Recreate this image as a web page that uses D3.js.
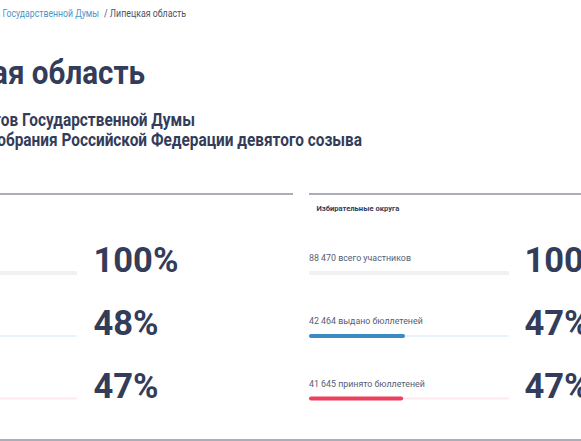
<!DOCTYPE html>
<html><head><meta charset="utf-8">
<script src="https://cdnjs.cloudflare.com/ajax/libs/d3/7.8.5/d3.min.js"></script>
<style>html,body{margin:0;padding:0;background:#fff;overflow:hidden}svg{display:block}text{font-family:Roboto,sans-serif}</style>
</head><body><svg id="c" width="581" height="441"></svg>
<script>
const panelTitles = ["Избирательные округа"];
const rowLabels = ["всего участников","выдано бюллетеней","принято бюллетеней"];
const rightCounts = [88470,42464,41645];
const leftPercents = [100,48,47];
const rightPercents = [100,47,47];
const breadcrumbLink = "Выборы депутатов Государственной Думы";
const breadcrumbCurrent = "/ Липецкая область";
const pageTitle = "Липецкая область";
const subtitleLines = ["Выборы депутатов Государственной Думы","Федерального Собрания Российской Федерации девятого созыва"];
const fillColors = ["#eef0f1","#3a8ac4","#ee3f5c"];
const trackColors = ["#eff1f2","#eaf3fa","#fde8ec"];
const ink = "#333c59";
const svg = d3.select("#c");
const rowY = d3.scaleOrdinal().domain([0,1,2]).range([273,336,398.5]);
const xL = d3.scaleLinear().domain([0,100]).range([-123,77]);
const xR = d3.scaleLinear().domain([0,100]).range([309,509]);
const cond = (sel,x,y,sx)=>sel.attr("transform",`translate(${x},${y}) scale(${sx},1)`);

svg.append("text").call(cond,99,17,0.83).attr("text-anchor","end").attr("font-size",10.5).attr("fill","#4a97c9").text(breadcrumbLink);
svg.append("text").call(cond,104,17,0.84).attr("font-size",10.5).attr("fill","#4b5268").text(breadcrumbCurrent);
svg.append("text").call(cond,145,84,0.87).attr("text-anchor","end").attr("font-size",34).attr("font-weight",700).attr("fill",ink).text(pageTitle);
svg.selectAll("text.sub").data(subtitleLines).join("text").attr("class","sub").attr("text-anchor","end")
  .each(function(d,i){d3.select(this).call(cond,[195,362][i],[126,146][i],0.88)})
  .attr("font-size",17.5).attr("font-weight",700).attr("fill",ink).text(d=>d);

const rules=[[-10,293,194],[309,600,194],[-10,600,440]];
svg.selectAll("line.r").data(rules).join("line").attr("class","r").attr("x1",d=>d[0]).attr("x2",d=>d[1]).attr("y1",d=>d[2]).attr("y2",d=>d[2]).attr("stroke","#8f92a3").attr("stroke-width",1.5);
svg.append("text").attr("x",316.5).attr("y",211).attr("font-size",7.6).attr("font-weight",700).attr("fill",ink).text(panelTitles[0]);

const fmt=n=>String(n).replace(/\B(?=(\d{3})+$)/g," ");
function bars(name,x,pcts,vals,numX){
  const g=svg.append("g").attr("class",name);
  const rows=g.selectAll("g").data(pcts).join("g");
  rows.append("rect").attr("x",x(0)).attr("y",(d,i)=>rowY(i)-(i?1:2)).attr("width",x(100)-x(0)).attr("height",(d,i)=>i?2:4).attr("rx",1).attr("fill",(d,i)=>trackColors[i]);
  rows.filter((d,i)=>i>0).append("rect").attr("x",x(0)).attr("y",(d,i)=>rowY(i+1)-2).attr("width",(d,i)=>x(vals?vals[i+1]/vals[0]*100:d)-x(0)).attr("height",4).attr("rx",2).attr("fill",(d,i)=>fillColors[i+1]);
  rows.append("text").attr("x",numX).attr("y",(d,i)=>rowY(i)-1).attr("font-size",34.5).attr("font-weight",700).attr("fill",ink).text(d=>d+"%");
  if(vals) rows.append("text").each(function(d,i){d3.select(this).call(cond,x(0),rowY(i)-12,0.94)}).attr("font-size",9.4).attr("fill","#565d75").text((d,i)=>fmt(vals[i])+" "+rowLabels[i]);
}
bars("left",xL,leftPercents,null,93.5);
bars("right",xR,rightPercents,rightCounts,524.5);
</script></body></html>
